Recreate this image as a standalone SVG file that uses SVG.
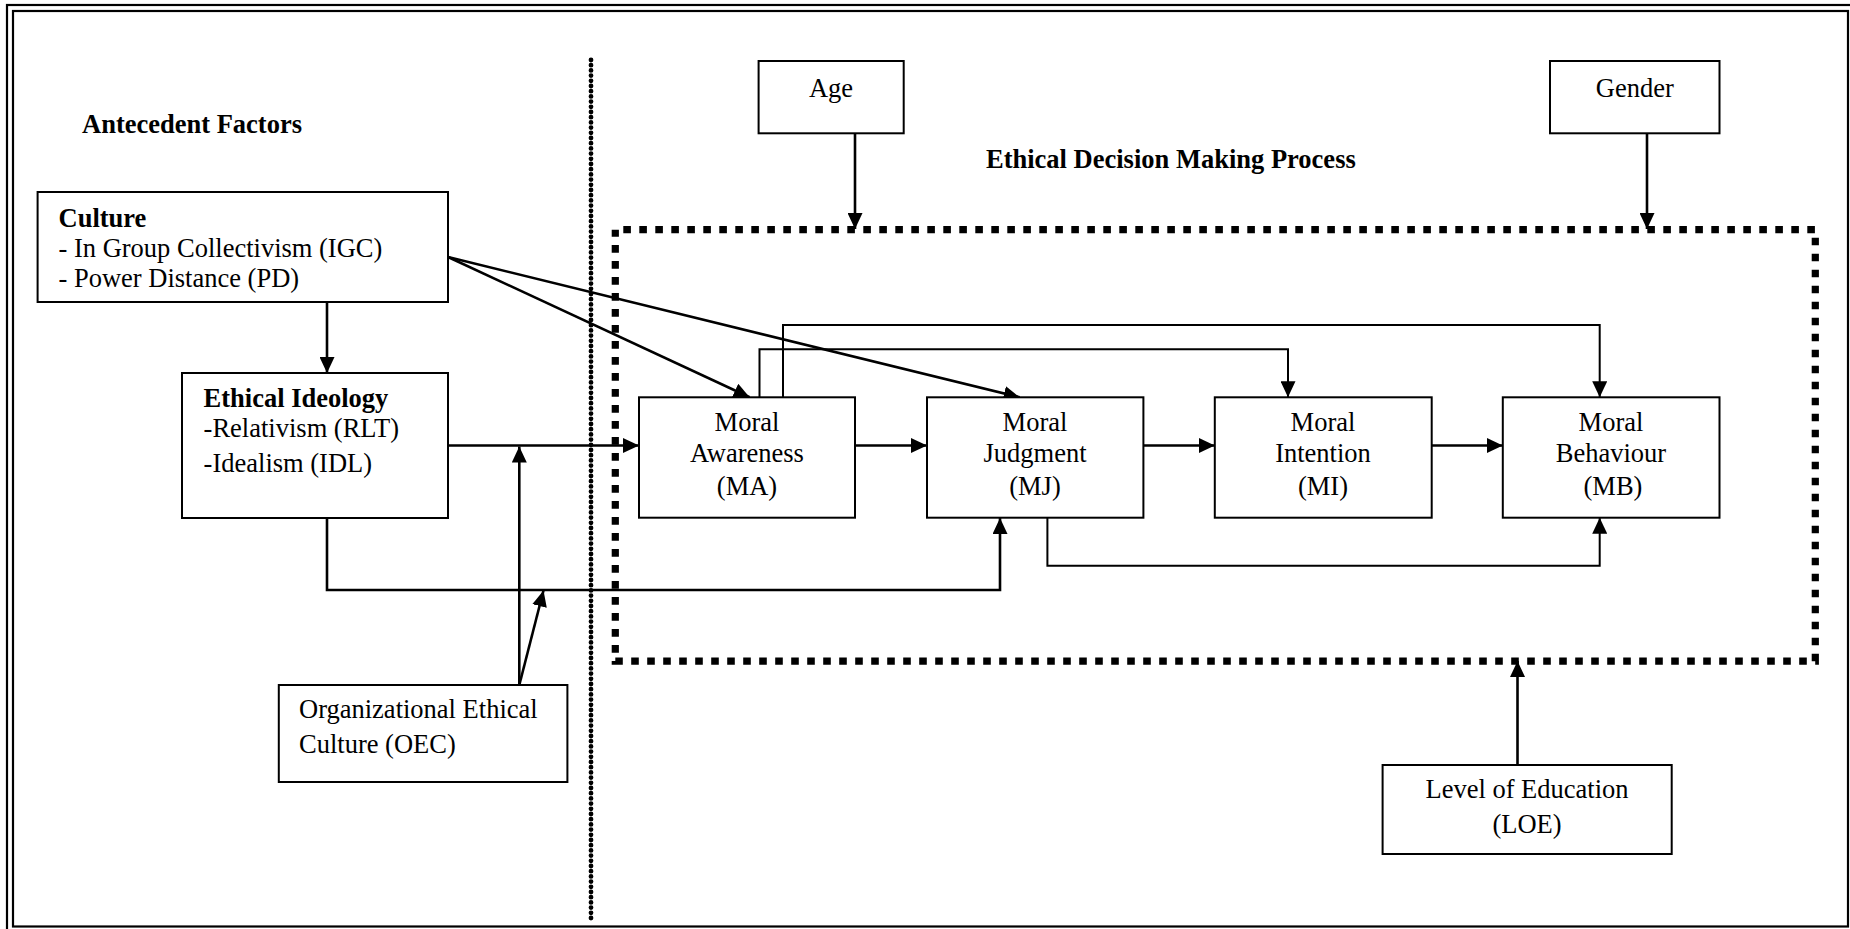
<svg xmlns="http://www.w3.org/2000/svg" width="1850" height="929" viewBox="0 0 1850 929">
  <style>
    text { font-family: "Liberation Serif", "Times New Roman", serif; font-size: 26.5px; fill: #000; }
    .b { font-weight: bold; }
    .c { text-anchor: middle; }
    .box { fill: #fff; stroke: #000; stroke-width: 2; }
    .arr { fill: none; stroke: #000; stroke-width: 2.6; marker-end: url(#head); }
    .thin { fill: none; stroke: #000; stroke-width: 2; marker-end: url(#head); }
  </style>
  <defs>
    <marker id="head" markerUnits="userSpaceOnUse" viewBox="0 0 16 15" markerWidth="16" markerHeight="15" refX="16" refY="7.5" orient="auto">
      <path d="M0,0 L16,7.5 L0,15 Z" fill="#000"/>
    </marker>
  </defs>

  <rect width="1850" height="929" fill="#fff"/>

  <!-- page frame: double rule on top and left -->
  <g id="frame" fill="none" stroke="#000">
    <rect x="7" y="5" width="1860" height="940" stroke-width="2.2"/>
    <rect x="13" y="11" width="1835" height="915.5" stroke-width="2.2"/>
  </g>

  <!-- section divider -->
  <line id="divider" x1="591" y1="60" x2="591" y2="922" stroke="#000" stroke-width="4.8" stroke-dasharray="0 5.2" stroke-linecap="round"/>

  <!-- process boundary -->
  <rect id="process-boundary" x="615.3" y="229.7" width="1200" height="431.5" fill="none" stroke="#000" stroke-width="7.2" stroke-dasharray="7.6 8.4" stroke-dashoffset="-8"/>

  <!-- section headings -->
  <text id="heading-antecedent" class="b" x="82" y="133">Antecedent Factors</text>
  <text id="heading-process" class="b" x="986" y="168">Ethical Decision Making Process</text>

  <g id="connectors">
    <line class="arr" x1="327" y1="302" x2="327" y2="373"/>
    <line class="arr" x1="448" y1="257" x2="749.6" y2="397.3"/>
    <line class="arr" x1="448" y1="257" x2="1019.7" y2="397.3"/>
    <line class="arr" x1="448" y1="445.5" x2="639" y2="445.5"/>
    <polyline class="arr" points="327,518 327,590 1000,590 1000,518"/>
    <line class="arr" x1="519.3" y1="685" x2="519.3" y2="446.5"/>
    <line class="arr" x1="519.3" y1="685" x2="543.5" y2="590.5"/>
    <line class="arr" x1="855" y1="445.5" x2="927" y2="445.5"/>
    <line class="arr" x1="1143.4" y1="445.5" x2="1214.8" y2="445.5"/>
    <line class="arr" x1="1431.7" y1="445.5" x2="1502.8" y2="445.5"/>
    <polyline class="thin" points="759.5,397.3 759.5,349.3 1288,349.3 1288,397.3"/>
    <polyline class="thin" points="783,397.3 783,325 1599.7,325 1599.7,397.3"/>
    <polyline class="thin" points="1047.4,517.7 1047.4,565.7 1599.7,565.7 1599.7,517.7"/>
    <line class="arr" x1="855" y1="133" x2="855" y2="229"/>
    <line class="arr" x1="1647" y1="133" x2="1647" y2="229"/>
    <line class="arr" x1="1517.5" y1="765" x2="1517.5" y2="661"/>
  </g>

  <g id="culture">
    <rect class="box" x="37.6" y="192" width="410.4" height="110"/>
    <text class="b" x="58.5" y="227">Culture</text>
    <text x="58.5" y="257">- In Group Collectivism (IGC)</text>
    <text x="58.5" y="287">- Power Distance (PD)</text>
  </g>

  <g id="ethical-ideology">
    <rect class="box" x="182" y="373" width="266" height="145"/>
    <text class="b" x="203.6" y="407">Ethical Ideology</text>
    <text x="203.6" y="437">-Relativism (RLT)</text>
    <text x="203.6" y="472">-Idealism (IDL)</text>
  </g>

  <g id="oec">
    <rect class="box" x="278.8" y="685" width="288.6" height="97"/>
    <text x="299" y="718">Organizational Ethical</text>
    <text x="299" y="753">Culture (OEC)</text>
  </g>

  <g id="age">
    <rect class="box" x="758.6" y="61" width="145.1" height="72.3"/>
    <text class="c" x="831" y="96.7">Age</text>
  </g>

  <g id="gender">
    <rect class="box" x="1550" y="61" width="169.5" height="72.3"/>
    <text class="c" x="1634.8" y="96.7">Gender</text>
  </g>

  <g id="moral-awareness">
    <rect class="box" x="639" y="397.3" width="216" height="120.4"/>
    <text class="c" x="747" y="430.7">Moral</text>
    <text class="c" x="747" y="462.3">Awareness</text>
    <text class="c" x="747" y="495">(MA)</text>
  </g>

  <g id="moral-judgment">
    <rect class="box" x="927" y="397.3" width="216.4" height="120.4"/>
    <text class="c" x="1035" y="430.7">Moral</text>
    <text class="c" x="1035" y="462.3">Judgment</text>
    <text class="c" x="1035" y="495">(MJ)</text>
  </g>

  <g id="moral-intention">
    <rect class="box" x="1214.8" y="397.3" width="216.9" height="120.4"/>
    <text class="c" x="1323" y="430.7">Moral</text>
    <text class="c" x="1323" y="462.3">Intention</text>
    <text class="c" x="1323" y="495">(MI)</text>
  </g>

  <g id="moral-behaviour">
    <rect class="box" x="1502.8" y="397.3" width="216.7" height="120.4"/>
    <text class="c" x="1611" y="430.7">Moral</text>
    <text class="c" x="1611" y="462.3">Behaviour</text>
    <text class="c" x="1613" y="495">(MB)</text>
  </g>

  <g id="education">
    <rect class="box" x="1382.6" y="765" width="289.1" height="89"/>
    <text class="c" x="1527" y="798.3">Level of Education</text>
    <text class="c" x="1527" y="833.3">(LOE)</text>
  </g>
</svg>
